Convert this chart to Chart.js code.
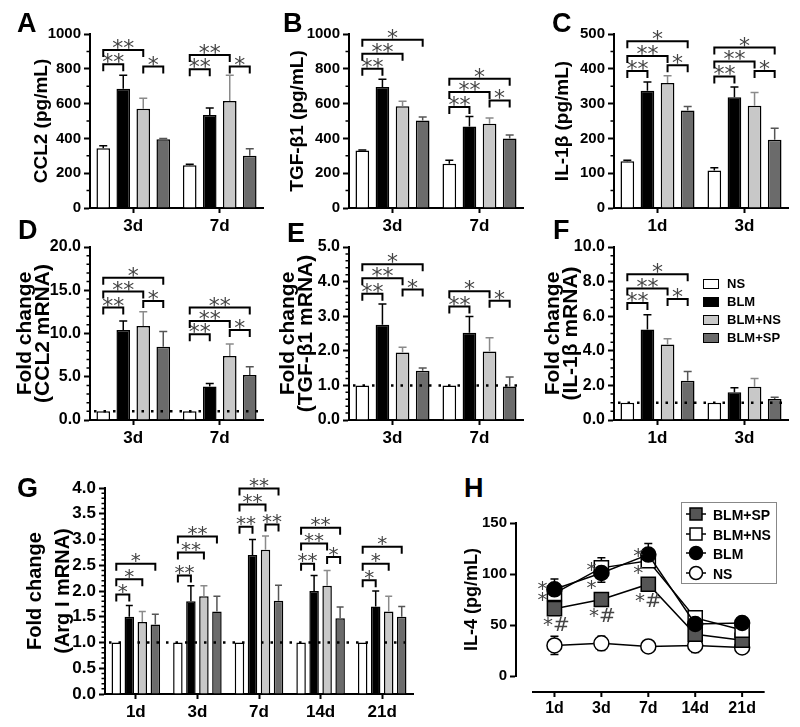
<!DOCTYPE html>
<html>
<head>
<meta charset="utf-8">
<script src="https://cdn.jsdelivr.net/npm/chart.js@4.4.1/dist/chart.umd.min.js"></script>
<style>
html, body { margin: 0; padding: 0; background: #fff; }
#wrap { position: relative; width: 800px; height: 727px; overflow: hidden; font-family: "Liberation Sans", Arial, sans-serif; }
#wrap canvas { position: absolute; }
.letter { position: absolute; font-weight: bold; font-size: 27px; line-height: 27px; color: #000; }
.legF { position: absolute; font-weight: bold; font-size: 13px; color: #000; }
.legF div { height: 18px; line-height: 18px; white-space: nowrap; }
.legF span { display: inline-block; width: 16px; height: 10px; border: 1.5px solid #000; box-sizing: border-box; margin-right: 8px; vertical-align: -1px; }
.legH { position: absolute; border: 1.5px solid #888; box-sizing: border-box; font-weight: bold; font-size: 14px; color: #000; padding-top: 2px; }
.legH div { height: 19.5px; line-height: 19.5px; white-space: nowrap; }
.legH svg { vertical-align: -3px; margin: 0 7px 0 4px; }
</style>
</head>
<body>
<div id="wrap"></div>
<script>
// ---------- data ----------
const seriesNames = ['NS', 'BLM', 'BLM+NS', 'BLM+SP'];

// A: CCL2 (pg/mL)
const aDays = ['3d', '7d'];
const aNS = [343, 245], aNSErr = [15, 6];
const aBLM = [686, 535], aBLMErr = [77, 39];
const aBLMNS = [570, 615], aBLMNSErr = [61, 148];
const aSP = [395, 300], aSPErr = [4, 40];
// [group, from series, to series, height, label]
const aBrackets = [[0, 0, 1, 826, '**'], [0, 0, 2, 908, '**'], [0, 2, 3, 813, '*'],
                   [1, 0, 1, 797, '**'], [1, 0, 2, 879, '**'], [1, 2, 3, 813, '*']];

// B: TGF-β1 (pg/mL)
const bDays = ['3d', '7d'];
const bNS = [330, 255], bNSErr = [3, 20];
const bBLM = [695, 469], bBLMErr = [45, 57];
const bBLMNS = [585, 484], bBLMNSErr = [28, 33];
const bSP = [503, 400], bSPErr = [20, 20];
const bBrackets = [[0, 0, 1, 800, '**'], [0, 0, 2, 886, '**'], [0, 0, 3, 967, '*'],
                   [1, 0, 1, 580, '**'], [1, 0, 2, 667, '**'], [1, 0, 3, 743, '*'], [1, 2, 3, 618, '*']];

// C: IL-1β (pg/mL)
const cDays = ['1d', '3d'];
const cNS = [134, 108], cNSErr = [3, 8];
const cBLM = [337, 318], cBLMErr = [25, 30];
const cBLMNS = [359, 294], cBLMNSErr = [21, 38];
const cSP = [280, 196], cSPErr = [12, 33];
const cBrackets = [[0, 0, 1, 394, '**'], [0, 0, 2, 437, '**'], [0, 0, 3, 479, '*'], [0, 2, 3, 410, '*'],
                   [1, 0, 1, 378, '**'], [1, 0, 2, 421, '**'], [1, 0, 3, 461, '*'], [1, 2, 3, 394, '*']];

// D: CCL2 mRNA fold change
const dDays = ['3d', '7d'];
const dNS = [1, 1], dNSErr = [0, 0];
const dBLM = [10.4, 3.86], dBLMErr = [1.05, 0.35];
const dBLMNS = [10.87, 7.4], dBLMNSErr = [1.65, 1.4];
const dSP = [8.48, 5.2], dSPErr = [1.75, 0.96];
const dBrackets = [[0, 0, 1, 13.0, '**'], [0, 0, 2, 14.85, '**'], [0, 0, 3, 16.45, '*'], [0, 2, 3, 13.76, '*'],
                   [1, 0, 1, 9.9, '**'], [1, 0, 2, 11.45, '**'], [1, 0, 3, 13.0, '**'], [1, 2, 3, 10.4, '*']];

// E: TGF-β1 mRNA fold change
const eDays = ['3d', '7d'];
const eNS = [1, 1], eNSErr = [0, 0];
const eBLM = [2.75, 2.52], eBLMErr = [0.6, 0.47];
const eBLMNS = [1.95, 1.98], eBLMNSErr = [0.15, 0.4];
const eSP = [1.42, 0.97], eSPErr = [0.08, 0.27];
const eBrackets = [[0, 0, 1, 3.65, '**'], [0, 0, 2, 4.1, '**'], [0, 0, 3, 4.5, '*'], [0, 2, 3, 3.77, '*'],
                   [1, 0, 1, 3.28, '**'], [1, 0, 2, 3.72, '*'], [1, 2, 3, 3.45, '*']];

// F: IL-1β mRNA fold change
const fDays = ['1d', '3d'];
const fNS = [1, 1], fNSErr = [0, 0];
const fBLM = [5.23, 1.6], fBLMErr = [0.85, 0.26];
const fBLMNS = [4.37, 1.92], fBLMNSErr = [0.32, 0.48];
const fSP = [2.27, 1.22], fSPErr = [0.54, 0.1];
const fBrackets = [[0, 0, 1, 6.76, '**'], [0, 0, 2, 7.6, '**'], [0, 0, 3, 8.43, '*'], [0, 2, 3, 7.0, '*']];

// G: Arg I mRNA fold change
const gDays = ['1d', '3d', '7d', '14d', '21d'];
const gNS = [1, 1, 1, 1, 1], gNSErr = [0, 0, 0, 0, 0];
const gBLM = [1.5, 1.8, 2.7, 2.0, 1.7], gBLMErr = [0.22, 0.3, 0.3, 0.3, 0.3];
const gBLMNS = [1.4, 1.9, 2.8, 2.1, 1.6], gBLMNSErr = [0.2, 0.2, 0.27, 0.3, 0.3];
const gSP = [1.35, 1.6, 1.81, 1.47, 1.5], gSPErr = [0.2, 0.3, 0.3, 0.22, 0.2];
const gBrackets = [[0, 0, 1, 1.93, '*'], [0, 0, 2, 2.23, '*'], [0, 0, 3, 2.53, '*'],
                   [1, 0, 1, 2.3, '**'], [1, 0, 2, 2.75, '**'], [1, 0, 3, 3.06, '**'],
                   [2, 0, 1, 3.25, '**'], [2, 2, 3, 3.29, '**'], [2, 0, 2, 3.68, '**'], [2, 0, 3, 3.99, '**'],
                   [3, 0, 1, 2.53, '**'], [3, 2, 3, 2.66, '*'], [3, 0, 2, 2.92, '**'], [3, 0, 3, 3.23, '**'],
                   [4, 0, 1, 2.21, '*'], [4, 0, 2, 2.53, '*'], [4, 0, 3, 2.86, '*']];

// H: IL-4 (pg/mL) time course
const hDays = ['1d', '3d', '7d', '14d', '21d'];
const hSP = [66, 75, 90, 41, 35], hSPErr = [5, 5, 5, 6, 4];
const hBLMNS = [81, 106, 113, 57, 45], hBLMNSErr = [6, 10, 6, 5, 6];
const hBLM = [85, 101, 119, 51, 52], hBLMErr = [10, 9, 11, 5, 4];
const hNS = [30, 32, 29, 30, 28], hNSErr = [9, 7, 3, 7, 5];
// [label, series, day index, dx, dy]
const hMarks = [['*', 'BLM', 0, -12, -4], ['*', 'BLM+NS', 0, -12, 3], ['*#', 'BLM+SP', 0, 2, 15],
                ['*', 'BLM+NS', 1, -10, -1], ['*', 'BLM', 1, -10, 12], ['*#', 'BLM+SP', 1, 1, 15],
                ['*', 'BLM', 2, -10, -2], ['*', 'BLM+NS', 2, -10, 9], ['*#', 'BLM+SP', 2, 0, 16]];

// ---------- styles ----------
const FONT = '"Liberation Sans", Arial, sans-serif';
const STAR_FONT = '"DejaVu Sans", sans-serif';
const barFill = ['#ffffff', '#000000', '#c8c8c8', '#6b6b6b'];
const errColor = ['#000000', '#000000', '#8a8a8a', '#555555'];

Chart.defaults.font.family = FONT;
Chart.defaults.color = '#000';
Chart.defaults.animation = false;

const wrap = document.getElementById('wrap');

function addCanvas(left, top, w, h) {
    const cv = document.createElement('canvas');
    cv.width = w;
    cv.height = h;
    cv.style.left = left + 'px';
    cv.style.top = top + 'px';
    cv.style.width = w + 'px';
    cv.style.height = h + 'px';
    wrap.appendChild(cv);
    return cv.getContext('2d');
}

function drawStars(c, txt, x, cy, size) {
    c.font = size + 'px ' + STAR_FONT;
    c.fillStyle = '#444';
    c.textAlign = 'center';
    c.textBaseline = 'alphabetic';
    const m = c.measureText(txt);
    c.fillText(txt, x, cy + (m.actualBoundingBoxAscent - m.actualBoundingBoxDescent) / 2);
}

function minorTicks(chart, scale, minor, major, max, from) {
    const c = chart.ctx;
    const n = Math.round((max - from) / minor);
    const every = Math.round(major / minor);
    c.save();
    c.strokeStyle = '#000';
    c.lineWidth = 1.5;
    c.beginPath();
    for (let i = 0; i <= n; i++) {
        if (i % every === 0) continue;
        const y = scale.getPixelForValue(from + i * minor);
        c.moveTo(chart.chartArea.left - 3.5, y);
        c.lineTo(chart.chartArea.left, y);
    }
    c.stroke();
    c.restore();
}

function annotPlugin(p) {
    return {
        id: 'annot',
        afterDatasetsDraw(chart) {
            const c = chart.ctx, y = chart.scales.y, area = chart.chartArea;
            c.save();
            // one-sided error bars
            p.errors.forEach((errs, d) => {
                const meta = chart.getDatasetMeta(d);
                errs.forEach((e, g) => {
                    if (!e) return;
                    const bar = meta.data[g];
                    const top = y.getPixelForValue(p.values[d][g] + e);
                    c.strokeStyle = errColor[d];
                    c.lineWidth = 1.5;
                    c.beginPath();
                    c.moveTo(bar.x, bar.y);
                    c.lineTo(bar.x, top);
                    c.moveTo(bar.x - p.capW, top);
                    c.lineTo(bar.x + p.capW, top);
                    c.stroke();
                });
            });
            // dotted reference line at fold change 1
            if (p.dotted) {
                const yy = y.getPixelForValue(1);
                c.setLineDash([2.5, 7]);
                c.strokeStyle = '#000';
                c.lineWidth = 2.5;
                c.beginPath();
                c.moveTo(area.left + 4, yy);
                c.lineTo(area.right, yy);
                c.stroke();
                c.setLineDash([]);
            }
            // significance brackets
            p.brackets.forEach(([g, a, b, h, lab]) => {
                const xa = chart.getDatasetMeta(a).data[g].x;
                const xb = chart.getDatasetMeta(b).data[g].x;
                const yy = y.getPixelForValue(h);
                c.strokeStyle = '#000';
                c.lineWidth = 2;
                c.beginPath();
                c.moveTo(xa, yy + 7);
                c.lineTo(xa, yy);
                c.lineTo(xb, yy);
                c.lineTo(xb, yy + 7);
                c.stroke();
                drawStars(c, lab, (xa + xb) / 2, yy - 6, p.starSize);
            });
            c.restore();
        },
        afterDraw(chart) {
            minorTicks(chart, chart.scales.y, p.yMinor, p.yStep, p.yMax, 0);
        }
    };
}

function barPanel(p) {
    const [L, T, R, B] = p.area;
    const W = p.yW, padT = 14, padR = 12, xH = 30;
    const left = L - W;
    const ctx = addCanvas(left, T - padT, W + (R - L) + padR, padT + (B - T) + xH);
    new Chart(ctx, {
        type: 'bar',
        data: {
            labels: p.groups,
            datasets: p.values.map((v, i) => ({
                label: seriesNames[i],
                data: v,
                backgroundColor: barFill[i],
                borderColor: '#000',
                borderWidth: 1.5,
                categoryPercentage: p.catPct,
                barPercentage: p.barPct
            }))
        },
        options: {
            responsive: false,
            layout: { padding: { top: padT, right: padR, left: 0, bottom: 0 } },
            plugins: { legend: { display: false }, tooltip: { enabled: false } },
            scales: {
                x: {
                    grid: { drawOnChartArea: false, offset: false, tickLength: 5, tickWidth: 2, tickColor: '#000' },
                    border: { color: '#000', width: 2 },
                    ticks: { font: { size: p.xFont, weight: 'bold' }, padding: 3, maxRotation: 0 },
                    afterFit: s => { s.height = xH; }
                },
                y: {
                    min: 0,
                    max: p.yMax,
                    grid: { drawOnChartArea: false, tickLength: 6, tickWidth: 2, tickColor: '#000' },
                    border: { color: '#000', width: 2 },
                    ticks: { stepSize: p.yStep, font: { size: p.yFont, weight: 'bold' }, padding: 3,
                             callback: v => v.toFixed(p.dec) },
                    title: {
                        display: true,
                        text: p.title,
                        font: { size: p.titleSize, weight: 'bold', lineHeight: p.titleLH + 'px' },
                        padding: { top: p.titleX - left - p.titleLH / 2, bottom: 0 }
                    },
                    afterFit: s => { s.width = W; }
                }
            }
        },
        plugins: [annotPlugin(p)]
    });
}

const rowOne = { yFont: 15, xFont: 17, titleSize: 19, titleLH: 19, catPct: 0.925, barPct: 0.68, starSize: 22, capW: 4, dotted: false, dec: 0 };
const rowTwo = { yFont: 16, xFont: 17, titleSize: 21, titleLH: 18, catPct: 0.925, barPct: 0.68, starSize: 22, capW: 4, dotted: true, dec: 1 };

barPanel(Object.assign({}, rowOne, {
    area: [90, 34, 263, 208], yW: 90, titleX: 42, title: 'CCL2 (pg/mL)',
    groups: aDays, values: [aNS, aBLM, aBLMNS, aSP], errors: [aNSErr, aBLMErr, aBLMNSErr, aSPErr],
    brackets: aBrackets, yMax: 1000, yStep: 200, yMinor: 100
}));
barPanel(Object.assign({}, rowOne, {
    area: [349, 34, 523, 208], yW: 90, titleX: 298, title: 'TGF-β1 (pg/mL)',
    groups: bDays, values: [bNS, bBLM, bBLMNS, bSP], errors: [bNSErr, bBLMErr, bBLMNSErr, bSPErr],
    brackets: bBrackets, yMax: 1000, yStep: 200, yMinor: 100
}));
barPanel(Object.assign({}, rowOne, {
    area: [614, 34, 788, 208], yW: 90, titleX: 563, title: 'IL-1β (pg/mL)',
    groups: cDays, values: [cNS, cBLM, cBLMNS, cSP], errors: [cNSErr, cBLMErr, cBLMNSErr, cSPErr],
    brackets: cBrackets, yMax: 500, yStep: 100, yMinor: 50
}));
barPanel(Object.assign({}, rowTwo, {
    area: [90, 247, 263, 420], yW: 90, titleX: 25, title: ['Fold change', '(CCL2 mRNA)'],
    groups: dDays, values: [dNS, dBLM, dBLMNS, dSP], errors: [dNSErr, dBLMErr, dBLMNSErr, dSPErr],
    brackets: dBrackets, yMax: 20, yStep: 5, yMinor: 1
}));
barPanel(Object.assign({}, rowTwo, {
    area: [349, 247, 523, 420], yW: 90, titleX: 288, title: ['Fold change', '(TGF-β1 mRNA)'],
    groups: eDays, values: [eNS, eBLM, eBLMNS, eSP], errors: [eNSErr, eBLMErr, eBLMNSErr, eSPErr],
    brackets: eBrackets, yMax: 5, yStep: 1, yMinor: 0.2
}));
barPanel(Object.assign({}, rowTwo, {
    area: [614, 247, 788, 420], yW: 90, titleX: 553, title: ['Fold change', '(IL-1β mRNA)'],
    groups: fDays, values: [fNS, fBLM, fBLMNS, fSP], errors: [fNSErr, fBLMErr, fBLMNSErr, fSPErr],
    brackets: fBrackets, yMax: 10, yStep: 2, yMinor: 0.5
}));
barPanel(Object.assign({}, rowTwo, {
    area: [105, 488, 413, 694], yW: 100, titleX: 35, title: ['Fold change', '(Arg I mRNA)'], titleSize: 20, titleLH: 28,
    yFont: 17, xFont: 17, catPct: 0.845, barPct: 0.73, starSize: 20, capW: 3.5,
    groups: gDays, values: [gNS, gBLM, gBLMNS, gSP], errors: [gNSErr, gBLMErr, gBLMNSErr, gSPErr],
    brackets: gBrackets, yMax: 4, yStep: 0.5, yMinor: 0.1
}));

// ---------- H: line chart ----------
(function () {
    const L = 516, T = 523, R = 768, B = 676;
    const W = 76, padT = 14, padR = 12, xH = 45;
    const left = L - W;
    const ctx = addCanvas(left, T - padT, W + (R - L) + padR, padT + (B - T) + xH);
    const series = {
        'BLM': { v: hBLM, e: hBLMErr, style: 'circle', r: 7.5, fill: '#000', order: 0 },
        'BLM+NS': { v: hBLMNS, e: hBLMNSErr, style: 'rect', r: 10, fill: '#fff', order: 1 },
        'BLM+SP': { v: hSP, e: hSPErr, style: 'rect', r: 10, fill: '#555', order: 2 },
        'NS': { v: hNS, e: hNSErr, style: 'circle', r: 7.5, fill: '#fff', order: 3 }
    };
    const keys = Object.keys(series);
    new Chart(ctx, {
        type: 'line',
        data: {
            datasets: keys.map(k => ({
                label: k,
                data: series[k].v.map((y, i) => ({ x: i, y: y })),
                borderColor: '#000',
                borderWidth: 1.5,
                pointStyle: series[k].style,
                pointRadius: series[k].r,
                pointBackgroundColor: series[k].fill,
                pointBorderColor: '#000',
                pointBorderWidth: 1.5,
                order: series[k].order,
                tension: 0
            }))
        },
        options: {
            responsive: false,
            layout: { padding: { top: padT, right: padR, left: 0, bottom: 0 } },
            plugins: { legend: { display: false }, tooltip: { enabled: false } },
            scales: {
                x: {
                    type: 'linear',
                    min: -0.82,
                    max: 4.48,
                    grid: { display: false, drawTicks: false },
                    border: { display: false },
                    afterBuildTicks: s => { s.ticks = hDays.map((d, i) => ({ value: i })); },
                    ticks: { font: { size: 16, weight: 'bold' }, padding: 23, maxRotation: 0, autoSkip: false,
                             callback: v => hDays[v] },
                    afterFit: s => { s.height = xH; }
                },
                y: {
                    min: 0,
                    max: 150,
                    grid: { drawOnChartArea: false, tickLength: 6, tickWidth: 2, tickColor: '#000' },
                    border: { color: '#000', width: 2 },
                    ticks: { stepSize: 50, font: { size: 15, weight: 'bold' }, padding: 3 },
                    title: {
                        display: true,
                        text: 'IL-4 (pg/mL)',
                        font: { size: 18, weight: 'bold', lineHeight: '20px' },
                        padding: { top: 472 - left - 10, bottom: 0 }
                    },
                    afterFit: s => { s.width = W; }
                }
            }
        },
        plugins: [{
            id: 'hExtras',
            beforeDatasetsDraw(chart) {
                const c = chart.ctx, xs = chart.scales.x, ys = chart.scales.y;
                c.save();
                c.strokeStyle = '#000';
                c.lineWidth = 1.5;
                keys.forEach(k => {
                    series[k].v.forEach((v, i) => {
                        const x = xs.getPixelForValue(i);
                        const y1 = ys.getPixelForValue(v - series[k].e[i]);
                        const y2 = ys.getPixelForValue(v + series[k].e[i]);
                        c.beginPath();
                        c.moveTo(x, y1); c.lineTo(x, y2);
                        c.moveTo(x - 4, y1); c.lineTo(x + 4, y1);
                        c.moveTo(x - 4, y2); c.lineTo(x + 4, y2);
                        c.stroke();
                    });
                });
                c.restore();
            },
            afterDraw(chart) {
                const c = chart.ctx, xs = chart.scales.x, ys = chart.scales.y, area = chart.chartArea;
                c.save();
                // detached x axis below the plot
                const ay = area.bottom + 16;
                c.strokeStyle = '#000';
                c.lineWidth = 2;
                c.beginPath();
                c.moveTo(area.left + 16, ay);
                c.lineTo(area.right, ay);
                hDays.forEach((d, i) => {
                    const x = xs.getPixelForValue(i);
                    c.moveTo(x, ay);
                    c.lineTo(x, ay + 5);
                });
                c.stroke();
                hMarks.forEach(([lab, k, i, dx, dy]) => {
                    drawStars(c, lab, xs.getPixelForValue(i) + dx, ys.getPixelForValue(series[k].v[i]) + dy, 20);
                });
                c.restore();
            }
        }]
    });
})();

// ---------- panel letters ----------
[['A', 17, 13], ['B', 283, 13], ['C', 552, 13], ['D', 18, 220], ['E', 287, 223],
 ['F', 553, 220], ['G', 17, 478], ['H', 464, 478]].forEach(([t, x, y]) => {
    const d = document.createElement('div');
    d.className = 'letter';
    d.textContent = t;
    d.style.left = x + 'px';
    d.style.top = (y - 3.5) + 'px';
    wrap.appendChild(d);
});

// ---------- legend for F ----------
(function () {
    const box = document.createElement('div');
    box.className = 'legF';
    box.style.left = '703px';
    box.style.top = '275px';
    seriesNames.forEach((n, i) => {
        const row = document.createElement('div');
        const sw = document.createElement('span');
        sw.style.background = barFill[i];
        row.appendChild(sw);
        row.appendChild(document.createTextNode(n));
        box.appendChild(row);
    });
    wrap.appendChild(box);
})();

// ---------- legend for H ----------
(function () {
    const items = [['BLM+SP', 'rect', '#555'], ['BLM+NS', 'rect', '#fff'], ['BLM', 'circle', '#000'], ['NS', 'circle', '#fff']];
    const box = document.createElement('div');
    box.className = 'legH';
    box.style.left = '681px';
    box.style.top = '502px';
    box.style.width = '96px';
    box.style.height = '82px';
    items.forEach(([n, shape, fill]) => {
        const row = document.createElement('div');
        const mark = shape === 'rect'
            ? `<rect x="4" y="3" width="12" height="12" fill="${fill}" stroke="#000" stroke-width="1.5"/>`
            : `<circle cx="10" cy="9" r="6.5" fill="${fill}" stroke="#000" stroke-width="1.5"/>`;
        row.innerHTML = `<svg width="20" height="18" viewBox="0 0 20 18"><line x1="0" y1="9" x2="20" y2="9" stroke="#000" stroke-width="1.5"/>${mark}</svg>${n}`;
        box.appendChild(row);
    });
    wrap.appendChild(box);
})();
</script>
</body>
</html>
